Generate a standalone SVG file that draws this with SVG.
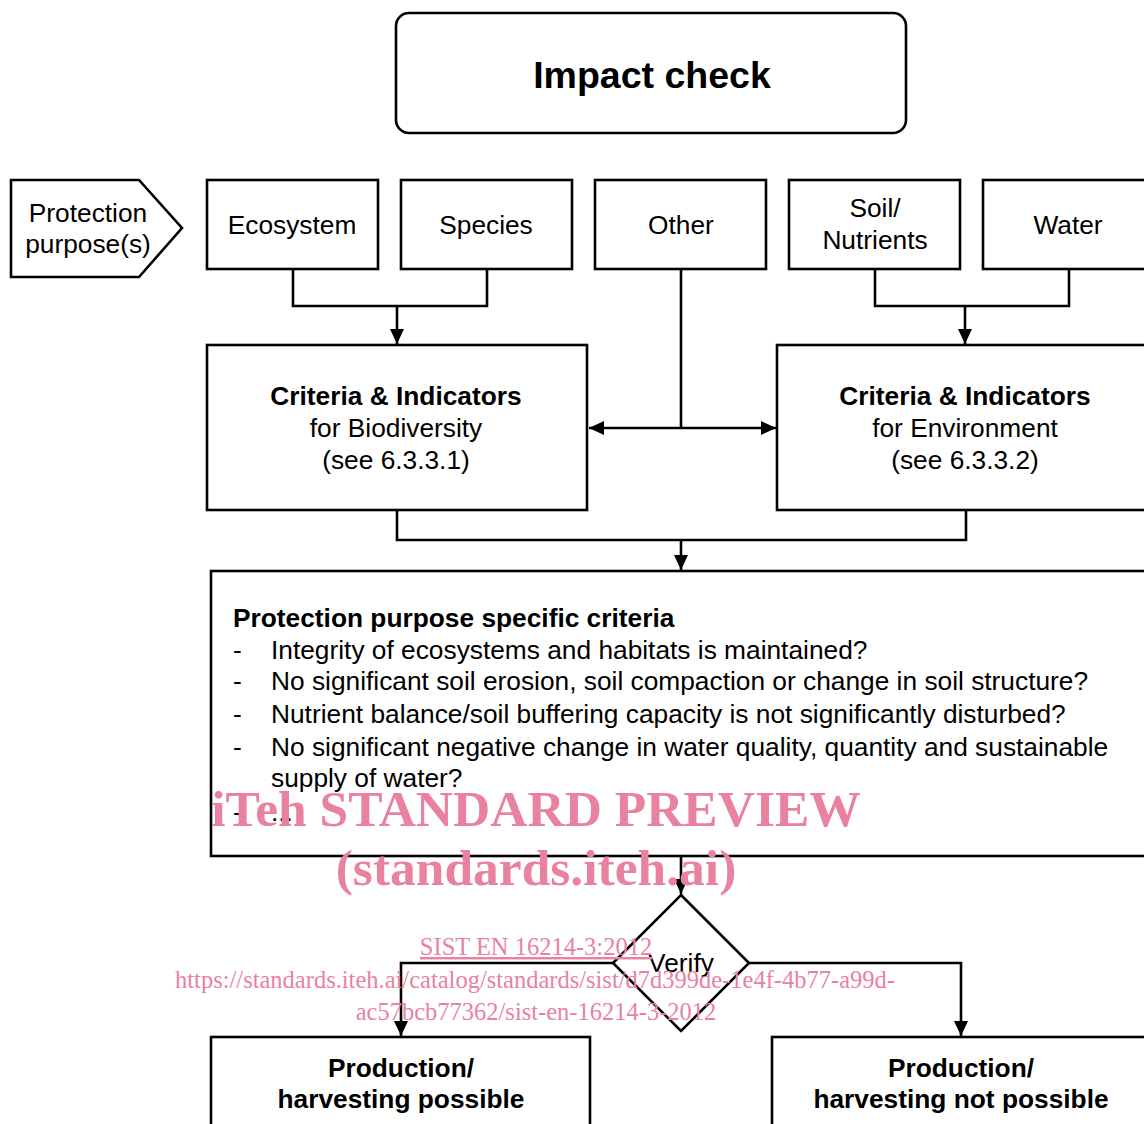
<svg xmlns="http://www.w3.org/2000/svg" width="1144" height="1124" viewBox="0 0 1144 1124">
<defs>
<style>
.box{fill:#fff;stroke:#000;stroke-width:2.6}
.ln{fill:none;stroke:#000;stroke-width:2.6}
.t{font-family:"Liberation Sans",Arial,sans-serif;font-size:26.3px;fill:#000;text-anchor:middle}
.b{font-weight:bold}
.l{text-anchor:start}
.wm{font-family:"Liberation Serif","Times New Roman",serif;fill:#E8829F;text-anchor:middle}
</style>
<marker id="ah2" markerWidth="14" markerHeight="14" refX="15" refY="7" orient="auto" markerUnits="userSpaceOnUse">
<path d="M0,0 L15,7 L0,14 z" fill="#000"/>
</marker>
</defs>
<rect width="1144" height="1124" fill="#fff"/>

<g id="connectors">
<path class="ln" d="M293,269 V306 H487 V269"/>
<path class="ln" d="M397,306 V344" marker-end="url(#ah2)"/>
<path class="ln" d="M875,269 V306 H1069 V269"/>
<path class="ln" d="M965,306 V344" marker-end="url(#ah2)"/>
<path class="ln" d="M681,269 V428"/>
<path class="ln" d="M681,428 H589" marker-end="url(#ah2)"/>
<path class="ln" d="M681,428 H776" marker-end="url(#ah2)"/>
<path class="ln" d="M397,510 V540 H966 V510"/>
<path class="ln" d="M681,540 V570" marker-end="url(#ah2)"/>
<path class="ln" d="M681,856 V894" marker-end="url(#ah2)"/>
<path class="ln" d="M613,963 H401 V1036" marker-end="url(#ah2)"/>
<path class="ln" d="M749,963 H961 V1036" marker-end="url(#ah2)"/>
</g>

<g id="impact-check">
<rect class="box" x="396" y="13" width="510" height="120" rx="13"/>
<text class="t b" x="652" y="88" style="font-size:37.5px">Impact check</text>
</g>

<g id="protection-purpose">
<path class="box" d="M11,180 H139 L182,228 L139,277 H11 Z"/>
<text class="t" x="88" y="222">Protection</text>
<text class="t" x="88" y="253">purpose(s)</text>
</g>

<g id="ecosystem">
<rect class="box" x="207" y="180" width="171" height="89"/>
<text class="t" x="292" y="234">Ecosystem</text>
</g>
<g id="species">
<rect class="box" x="401" y="180" width="171" height="89"/>
<text class="t" x="486" y="234">Species</text>
</g>
<g id="other">
<rect class="box" x="595" y="180" width="171" height="89"/>
<text class="t" x="681" y="234">Other</text>
</g>
<g id="soil">
<rect class="box" x="789" y="180" width="171" height="89"/>
<text class="t" x="875" y="217">Soil/</text>
<text class="t" x="875" y="249">Nutrients</text>
</g>
<g id="water">
<rect class="box" x="983" y="180" width="175" height="89"/>
<text class="t" x="1068" y="234">Water</text>
</g>

<g id="ci-biodiversity">
<rect class="box" x="207" y="345" width="380" height="165"/>
<text class="t b" x="396" y="405">Criteria &amp; Indicators</text>
<text class="t" x="396" y="437">for Biodiversity</text>
<text class="t" x="396" y="469">(see 6.3.3.1)</text>
</g>
<g id="ci-environment">
<rect class="box" x="777" y="345" width="380" height="165"/>
<text class="t b" x="965" y="405">Criteria &amp; Indicators</text>
<text class="t" x="965" y="437">for Environment</text>
<text class="t" x="965" y="469">(see 6.3.3.2)</text>
</g>

<g id="specific-criteria">
<rect class="box" x="211" y="571" width="946" height="285"/>
<text class="t b l" x="233" y="627">Protection purpose specific criteria</text>
<text class="t l" x="233" y="659">-</text><text class="t l" x="271" y="659">Integrity of ecosystems and habitats is maintained?</text>
<text class="t l" x="233" y="690">-</text><text class="t l" x="271" y="690">No significant soil erosion, soil compaction or change in soil structure?</text>
<text class="t l" x="233" y="723">-</text><text class="t l" x="271" y="723">Nutrient balance/soil buffering capacity is not significantly disturbed?</text>
<text class="t l" x="233" y="756">-</text><text class="t l" x="271" y="756">No significant negative change in water quality, quantity and sustainable</text>
<text class="t l" x="271" y="787">supply of water?</text>
<text class="t l" x="233" y="821">-</text><text class="t l" x="271" y="821">...</text>
</g>

<g id="verify">
<path class="box" d="M681,895 L749,963 L681,1031 L613,963 Z"/>
<text class="t" x="681" y="972">Verify</text>
</g>

<g id="possible">
<rect class="box" x="211" y="1037" width="379" height="100"/>
<text class="t b" x="401" y="1077">Production/</text>
<text class="t b" x="401" y="1108">harvesting possible</text>
</g>
<g id="not-possible">
<rect class="box" x="772" y="1037" width="385" height="100"/>
<text class="t b" x="961" y="1077">Production/</text>
<text class="t b" x="961" y="1108">harvesting not possible</text>
</g>

<g id="watermark">
<text class="wm" x="536" y="826" style="font-size:51.5px;font-weight:bold">iTeh STANDARD PREVIEW</text>
<text class="wm" x="536" y="885" style="font-size:51.5px;font-weight:bold">(standards.iteh.ai)</text>
<text class="wm" x="536" y="955" style="font-size:24.5px;text-decoration:underline">SIST EN 16214-3:2012</text>
<text class="wm" x="535" y="988" style="font-size:24.5px">https://standards.iteh.ai/catalog/standards/sist/d7d399de-1e4f-4b77-a99d-</text>
<text class="wm" x="536" y="1020" style="font-size:24.5px">ac57bcb77362/sist-en-16214-3-2012</text>
</g>
</svg>
